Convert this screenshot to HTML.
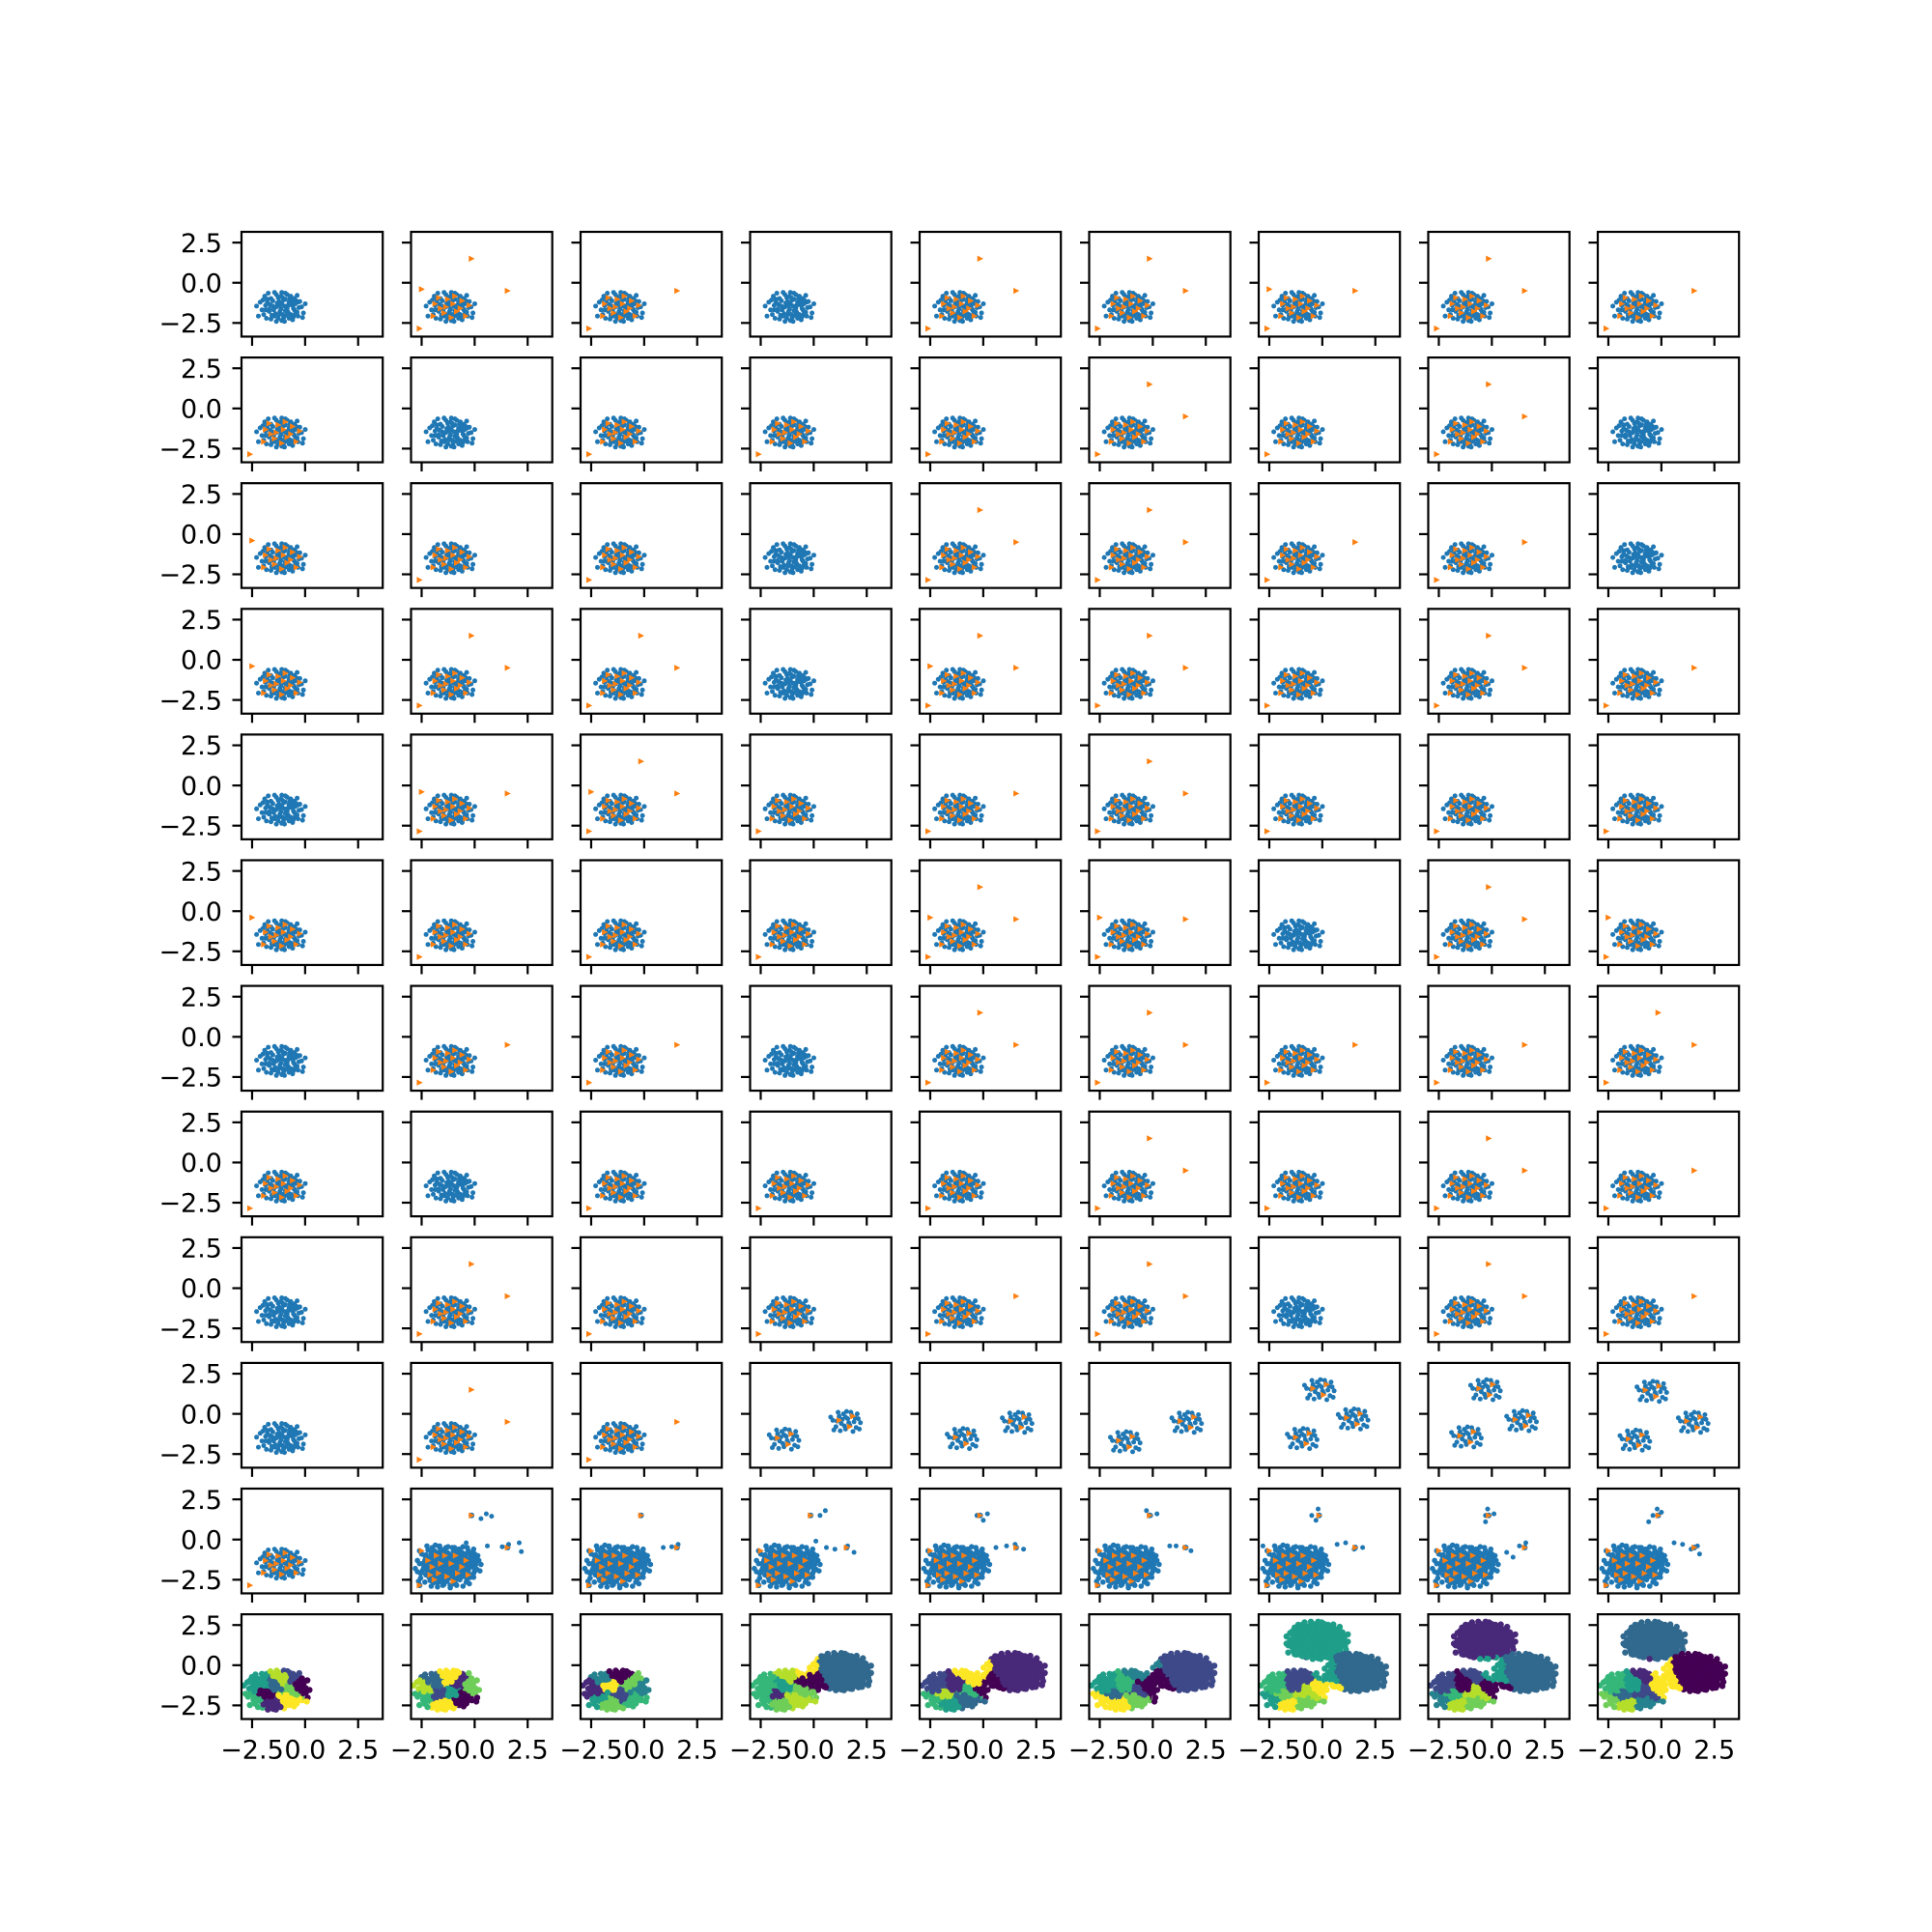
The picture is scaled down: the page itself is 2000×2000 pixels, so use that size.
<!DOCTYPE html>
<html><head><meta charset="utf-8"><style>
html,body{margin:0;padding:0;background:#fff;}
svg{display:block;}
text{font-family:"DejaVu Sans","Liberation Sans",sans-serif;font-size:27px;fill:#000;}
</style></head>
<body>
<svg id="fig" width="2000" height="2000" viewBox="0 0 2000 2000" xmlns="http://www.w3.org/2000/svg">
<rect width="2000" height="2000" fill="#fff"/>
</svg>
<script>
// ---- data ----
const xTicks = [-2.5, 0, 2.5];
const xTickLabels = ["\u22122.5", "0.0", "2.5"];
const yTicks = [2.5, 0, -2.5];
const yTickLabels = ["2.5", "0.0", "\u22122.5"];
const xLim = [-3.0, 3.66];
const yLim = [-3.35, 3.17];

const blobA = [[-0.9,0.1],[-0.7,-0.3],[-0.5,0.4],[-0.4,-0.6],[-0.3,0.0],[-0.2,0.6],[-0.1,-0.3],[0.0,0.2],[0.1,-0.7],[0.2,0.5],[0.3,-0.1],[0.4,0.3],[0.5,-0.5],[0.6,0.1],[0.7,-0.2],[0.8,0.4],[0.9,-0.6],[1.1,0.0],[-1.2,0.3],[-0.6,-0.8],[-0.8,0.5],[0.0,-0.9],[0.2,0.9],[-0.3,0.8],[0.5,0.7],[0.9,0.3],[1.2,-0.4],[-1.0,-0.5],[-0.45,-0.2],[0.15,0.05],[0.35,-0.35],[-0.15,0.35],[0.65,-0.65],[-0.65,0.15],[0.05,-0.5],[-0.35,-0.45],[0.45,0.55],[0.75,0.2],[-0.05,0.7],[-0.9,-0.2]];
const blobB = [[-1.1,-0.2],[-0.8,0.3],[-0.55,-0.55],[-0.25,0.25],[-0.05,-0.15],[0.25,-0.55],[0.45,0.15],[0.7,0.55],[0.85,-0.35],[1.0,0.35],[-1.3,-0.6],[-0.95,0.7],[-0.4,0.95],[0.1,0.45],[0.3,0.8],[0.6,-0.85],[-0.2,-0.75],[-0.7,-0.15],[0.95,-0.05],[1.3,0.2],[-0.5,0.05],[0.2,-0.25],[-0.1,0.1],[0.4,-0.75],[-0.85,-0.75],[0.55,0.35],[-0.3,-0.95],[0.0,0.95],[0.75,-0.45],[-1.05,0.45],[1.15,-0.7],[-0.6,0.55],[0.15,-0.95],[0.85,0.75],[-1.4,0.05],[0.35,0.1],[-0.15,-0.5],[0.65,-0.1],[-0.75,0.9],[0.05,0.6]];
const blobS = [[-0.6,0.1],[-0.45,-0.3],[-0.3,0.35],[-0.2,-0.1],[-0.1,0.5],[0,-0.45],[0.1,0.2],[0.2,-0.2],[0.3,0.4],[0.4,0],[0.5,-0.35],[0.6,0.2],[0.7,-0.05],[-0.55,-0.5],[-0.35,0.6],[0.05,0.65],[0.35,-0.6],[-0.7,0.3],[0.55,0.5],[-0.15,0.15],[0.15,-0.05],[-0.25,-0.55],[0.45,0.25],[-0.4,0.05],[0.25,0.6],[0.65,-0.45],[-0.05,-0.25],[0.0,0.3]];
const orangeA = [[-0.9,0.2],[-0.4,-0.4],[-0.2,0.5],[0.3,-0.3],[0.1,0.2],[0.6,0.4],[-0.6,-0.1],[0.8,-0.6],[0.0,-0.7],[-0.3,0.0],[0.5,-0.1],[-1.0,-0.6],[1.0,0.1],[0.2,0.7],[-0.7,0.6]];
const orangeS = [[-0.3,0.1],[0.2,-0.3],[0.35,0.35]];
const clusterCenter = [-1.1, -1.5];
const outlierPts = {hi:[-0.15,1.5], rt:[1.55,-0.5], ll:[-2.6,-2.85], ul:[-2.5,-0.4]};

const flags = [
 ["","hi rt ll ul","rt ll","","hi rt ll","hi rt ll","rt ll ul","hi rt ll","rt ll"],
 ["ll","","ll","ll","ll","hi rt ll","ll","hi rt ll",""],
 ["ul","ll","ll","","hi rt ll","hi rt ll","rt ll","rt ll",""],
 ["ul","hi rt ll","hi rt ll","","hi rt ll ul","hi rt ll","ll","hi rt ll","rt ll"],
 ["","rt ll ul","hi rt ll ul","ll","rt ll","hi rt ll","ll","ll","ll"],
 ["ul","ll","ll","ll","hi rt ll ul","rt ll ul","","hi rt ll","ll ul"],
 ["","rt ll","rt ll","","hi rt ll","hi rt ll","rt ll","rt ll","hi rt ll"],
 ["ll","","ll","ll","ll","hi rt ll","ll","hi rt ll","rt ll"],
 ["","hi rt ll","ll","ll","rt ll","hi rt ll","","hi rt ll","rt ll"],
 ["","hi rt ll","rt ll"],
 ["ll"]
];

const multiCenters = [
 [[-1.4,-1.6],[1.5,-0.5]],
 [[-1.0,-1.56],[1.6,-0.55]],
 [[-1.3,-1.76],[1.6,-0.55]],
 [[-0.14,1.48],[1.45,-0.34],[-0.95,-1.56]],
 [[-0.3,1.48],[1.4,-0.45],[-1.2,-1.46]],
 [[-0.45,1.38],[1.5,-0.55],[-1.25,-1.66]]
];

const denseOff = [[-1.6,-1.5],[-1.0,-1.5],[-1.3,-1.9],[-1.3,-1.1],[-2.0,-1.6],[-0.7,-1.9],[-0.6,-1.1],[-2.1,-2.1],[-0.9,-2.3],[-1.9,-1.0],[-1.5,-2.4],[-0.4,-1.5]];
const orangeGrid = [[-2.5,-0.7],[-2.2,-1.3],[-1.8,-1.0],[-1.4,-1.0],[-0.9,-1.0],[-0.4,-1.3],[-2.0,-1.7],[-1.6,-1.5],[-1.1,-1.5],[-0.6,-1.7],[-2.1,-2.2],[-1.7,-2.1],[-1.3,-2.3],[-0.8,-2.1],[-0.3,-2.2],[-1.9,-2.5],[-1.0,-2.6]];
const row11Extras = [
 [[0.6,-0.4],[1.3,-0.45],[1.6,-0.3],[2.1,-0.2],[2.2,-0.75],[0.3,1.3],[0.55,1.6],[0.8,1.45],[-0.4,-0.2]],
 [[1.3,-0.45],[1.6,-0.3],[1.55,-0.5],[0.9,-0.5],[-0.15,1.5]],
 [[0.6,-0.5],[1.0,-0.6],[1.6,-0.4],[1.9,-0.8],[0.3,1.5],[0.55,1.8],[0.1,-0.1]],
 [[0.6,-0.5],[1.1,-0.4],[1.5,-0.3],[1.9,-0.6],[-0.3,1.5],[0.2,1.6],[0.0,1.2]],
 [[0.8,-0.4],[1.1,-0.4],[1.5,-0.5],[1.8,-0.7],[-0.1,1.5],[-0.3,1.8],[0.2,1.6]],
 [[0.7,-0.3],[1.1,-0.2],[1.5,-0.6],[1.9,-0.5],[-0.5,1.5],[-0.2,1.9],[-0.3,1.2],[-2.8,-0.4]],
 [[0.7,-0.8],[1.0,-1.1],[1.3,-0.4],[1.6,-0.2],[-0.3,1.5],[0.1,1.6],[-0.3,1.1],[-0.2,1.9]],
 [[0.6,-0.2],[1.0,-0.3],[1.4,-0.6],[1.7,-0.4],[1.8,-0.9],[-0.4,1.5],[-0.2,1.9],[0.0,1.7],[-0.6,1.1]]
];
const row11Orange = [[-0.15,1.5],[1.55,-0.5],[-2.6,-2.85]];

const viridis = ["#440154","#482878","#3e4989","#31688e","#26828e","#1f9e89","#35b779","#6ece58","#b5de2b","#fde725"];
const smallOff = [[-1.3,-1.5],[-1.7,-1.3],[-0.9,-1.7],[-1.5,-2.0],[-1.0,-1.1]];
const bigOff = [[0,0],[0.3,0.2],[-0.3,0.2],[0.3,-0.25],[-0.3,-0.25],[0,0.35],[0,-0.35]];
const patchSets = [
 [[-2.2,-1.2,5],[-1.8,-1.7,0],[-1.3,-1.3,3],[-0.8,-1.6,7],[-0.2,-1.1,0],[-1.6,-2.3,1],[-0.9,-2.1,9],[-2.3,-2.2,6],[-0.6,-0.8,2],[-1.0,-1.0,8]],
 [[-2.2,-1.4,8],[-1.7,-1.8,2],[-1.3,-0.7,9],[-0.7,-1.2,1],[-1.0,-1.7,5],[-1.5,-2.4,9],[-0.6,-2.0,0],[-2.3,-2.1,6],[-0.3,-1.3,7],[-1.9,-1.0,3]],
 [[-2.2,-1.5,1],[-1.6,-1.3,9],[-1.1,-0.6,0],[-0.6,-1.2,7],[-1.1,-1.9,2],[-1.6,-2.3,7],[-0.5,-2.1,6],[-2.0,-2.0,5],[-0.3,-1.5,4],[-1.9,-0.9,4]],
 [[-2.2,-1.4,6],[-1.7,-1.8,1],[-1.3,-1.3,5],[-0.8,-1.6,7],[-0.5,-1.0,0],[-1.6,-2.3,7],[-0.9,-2.1,8],[-2.3,-2.2,6],[-1.0,-0.7,8],[-0.7,-0.6,9],[1.3,-0.4,3]],
 [[-2.2,-1.3,2],[-1.8,-1.8,8],[-1.3,-1.3,1],[-0.8,-1.6,6],[-0.3,-1.0,9],[-1.6,-2.3,5],[-0.9,-2.1,3],[-2.3,-2.2,6],[-0.6,-0.6,9],[0.0,-1.2,0],[1.5,-0.4,1]],
 [[-2.2,-1.3,5],[-1.8,-1.8,3],[-1.3,-1.3,6],[-0.8,-1.6,2],[-0.3,-1.0,0],[-1.6,-2.3,9],[-0.9,-2.1,7],[-2.3,-2.2,9],[-0.6,-0.6,4],[0.0,-1.3,0],[1.5,-0.4,2]],
 [[-2.2,-1.3,6],[-1.8,-1.9,7],[-1.3,-1.3,2],[-0.8,-1.7,8],[-0.3,-1.2,9],[-1.6,-2.4,9],[-0.9,-2.2,7],[-2.3,-2.2,5],[-0.7,-0.7,2],[-0.2,-0.6,5],[-0.2,1.55,5],[1.6,-0.45,3]],
 [[-2.2,-1.3,2],[-1.8,-1.9,6],[-1.3,-1.3,0],[-0.8,-1.7,8],[-0.3,-1.2,0],[-1.6,-2.4,8],[-0.9,-2.2,7],[-2.3,-2.2,4],[-0.7,-0.7,2],[-0.2,-0.6,5],[-0.3,1.55,1],[1.6,-0.45,3]],
 [[-2.2,-1.3,6],[-1.8,-1.9,3],[-1.3,-1.3,5],[-0.8,-1.7,2],[-0.3,-1.2,9],[-1.6,-2.4,8],[-0.9,-2.2,4],[-2.3,-2.2,7],[-0.7,-0.7,1],[-0.2,-0.8,9],[-0.3,1.55,3],[1.6,-0.45,0]]
];
const bigCenters = [[],[],[],[[1.3,-0.4]],[[1.5,-0.4]],[[1.5,-0.4]],[[-0.2,1.55],[1.6,-0.45]],[[-0.3,1.55],[1.6,-0.45]],[[-0.3,1.55],[1.6,-0.45]]];

// ---- layout ----
const NS = "http://www.w3.org/2000/svg";
const fig = document.getElementById('fig');
const L0 = 250, T0 = 240, AW = 146.2, AH = 108.45, PX = 175.5, PY = 130.1;
const TL = 9.5, LW = 2.2;
function mk(tag, attrs, parent) {
  const e = document.createElementNS(NS, tag);
  for (const k in attrs) e.setAttribute(k, attrs[k]);
  (parent || fig).appendChild(e);
  return e;
}
const defs = mk('defs', {});

for (let r = 0; r < 12; r++) {
  for (let c = 0; c < 9; c++) {
    const left = L0 + c * PX, top = T0 + r * PY;
    const sx = x => left + (x - xLim[0]) / (xLim[1] - xLim[0]) * AW;
    const sy = y => top + (yLim[1] - y) / (yLim[1] - yLim[0]) * AH;
    const g = mk('g', {});
    
    
    const cp = mk('clipPath', {id: 'cp' + r + '_' + c}, defs);
    mk('rect', {x: left, y: top, width: AW, height: AH}, cp);
    const pts = mk('g', {'clip-path': 'url(#cp' + r + '_' + c + ')'}, g);
    
    
    const dot = (x, y, col, rad) => {
      mk('circle', {cx: sx(x).toFixed(1), cy: sy(y).toFixed(1), r: rad || 2.5, fill: col}, pts);
    };
    const tri = (x, y) => {
      const X = sx(x), Y = sy(y);
      mk('polygon', {points: (X - 2.8) + ',' + (Y - 3.2) + ' ' + (X + 3.4) + ',' + Y + ' ' + (X - 2.8) + ',' + (Y + 3.2), fill: '#ff7f0e'}, pts);
    };
    const blue = '#1f77b4';

    if (r < 9 || (r === 9 && c < 3) || (r === 10 && c === 0)) {
      const f = flags[r][c];
      blobA.forEach(p => dot(clusterCenter[0] + p[0] * 0.85, clusterCenter[1] + p[1] * 0.95, blue));
      blobB.forEach(p => dot(clusterCenter[0] + p[0] * 0.85, clusterCenter[1] + p[1] * 0.95, blue));
      if (f !== "") {
        orangeA.forEach(p => tri(clusterCenter[0] + p[0] * 0.85, clusterCenter[1] + p[1] * 0.95));
        f.split(' ').forEach(k => tri(outlierPts[k][0], outlierPts[k][1]));
      }
    } else if (r === 9) {
      const cs = multiCenters[c - 3];
      cs.forEach(ct => blobS.forEach(p => dot(ct[0] + p[0], ct[1] + p[1], blue)));
      cs.forEach(ct => orangeS.forEach(p => tri(ct[0] + p[0], ct[1] + p[1])));
    } else if (r === 10) {
      denseOff.forEach(o => blobS.forEach(p => dot(o[0] + p[0], o[1] + p[1], blue, 2.8)));
      row11Extras[c - 1].forEach(p => dot(p[0], p[1], blue));
      orangeGrid.forEach(p => tri(p[0], p[1]));
      row11Orange.forEach(p => { dot(p[0], p[1], blue, 3); tri(p[0], p[1]); });
    } else {
      const patches = patchSets[c];
      const cloud = [];
      smallOff.forEach(o => { blobA.forEach(p => cloud.push([o[0] + p[0] * 0.85, o[1] + p[1] * 0.8])); blobB.forEach(p => cloud.push([o[0] + p[0] * 0.85, o[1] + p[1] * 0.8])); });
      bigCenters[c].forEach(bc => bigOff.forEach(o => { blobA.forEach(p => cloud.push([bc[0] + o[0] + p[0] * 0.85, bc[1] + o[1] + p[1] * 0.85])); blobB.forEach(p => cloud.push([bc[0] + o[0] + p[0] * 0.85, bc[1] + o[1] + p[1] * 0.85])); }));
      cloud.forEach(p => {
        let best = 0, bd = 1e9;
        patches.forEach((pc, i) => { const d = (p[0] - pc[0]) ** 2 + (p[1] - pc[1]) ** 2; if (d < bd) { bd = d; best = i; } });
        dot(p[0], p[1], viridis[patches[best][2]], 3.2);
      });
    }

    const fr = mk('rect', {x: left, y: top, width: AW, height: AH, fill: 'none', stroke: '#000', 'stroke-width': LW}, g);
    
    
    xTicks.forEach((t, i) => {
      const X = sx(t);
      const tk = mk('line', {x1: X, y1: top + AH, x2: X, y2: top + AH + TL, stroke: '#000', 'stroke-width': LW}, g);
      
      
      if (r === 11) {
        const tx = mk('text', {x: X, y: top + AH + 41, 'text-anchor': 'middle'}, g);
        tx.textContent = xTickLabels[i];
        
        
      }
    });
    yTicks.forEach((t, i) => {
      const Y = sy(t);
      const tk = mk('line', {x1: left, y1: Y, x2: left - TL, y2: Y, stroke: '#000', 'stroke-width': LW}, g);
      
      
      if (c === 0) {
        const tx = mk('text', {x: left - 20, y: Y + 9.7, 'text-anchor': 'end'}, g);
        tx.textContent = yTickLabels[i];
        
        
      }
    });
  }
}
</script>
</body></html>
